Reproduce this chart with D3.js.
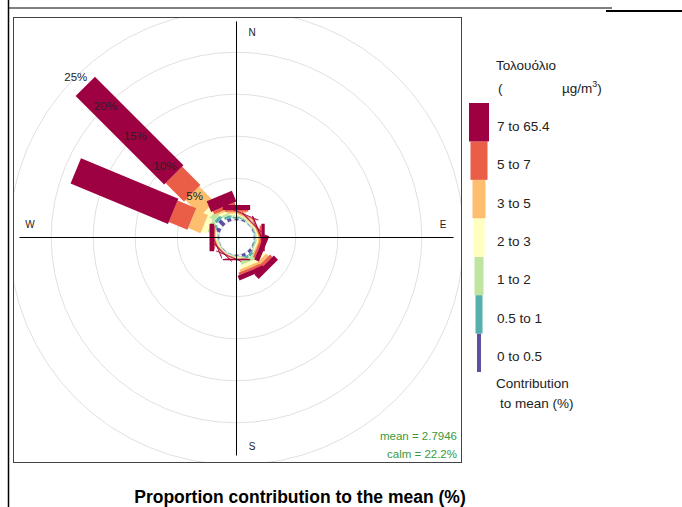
<!DOCTYPE html>
<html>
<head>
<meta charset="utf-8">
<script src="https://cdn.jsdelivr.net/npm/d3@7"></script>
<style>
  body { margin: 0; background: #fff; }
  svg { display: block; font-family: "Liberation Sans", Arial, sans-serif; }
</style>
</head>
<body>
<svg id="chart" width="682" height="507"></svg>
<script>
// wind direction sectors (compass degrees)
const directions = ["N", "NNE", "NE", "ENE", "E", "ESE", "SE", "SSE", "S", "SSW", "SW", "WSW", "W", "WNW", "NW", "NNW"];
const angles = [0, 22.5, 45, 67.5, 90, 112.5, 135, 157.5, 180, 202.5, 225, 247.5, 270, 292.5, 315, 337.5];

// concentration intervals (µg/m3) and their contribution to the mean (%) per sector
const bins = ["0 to 0.5", "0.5 to 1", "1 to 2", "2 to 3", "3 to 5", "5 to 7", "7 to 65.4"];
const binColours = ["#5E4FA2", "#55AFAD", "#BFE5A0", "#FFFFBF", "#FDBF6F", "#EA5D47", "#9E0142"];
const c0to05  = [0.2, 0.15, 0.05, 0.1, 0.1, 0.1, 0.35, 0.35, 0.1, 0.05, 0.05, 0.05, 0.1, 0.55, 0.8, 0.4];
const c05to1  = [0.2, 0.15, 0.05, 0.1, 0.1, 0.1, 0.35, 0.35, 0.05, 0.05, 0.05, 0.05, 0.1, 0.35, 0.4, 0.3];
const c1to2   = [0.2, 0.15, 0.1, 0.1, 0.15, 0.15, 0.6, 0.5, 0.1, 0.05, 0.05, 0.1, 0.1, 0.5, 0.7, 0.3];
const c2to3   = [0.2, 0.1, 0.1, 0.1, 0.15, 0.15, 0.5, 0.4, 0.1, 0.05, 0.05, 0.1, 0.1, 0.7, 0.9, 0.3];
const c3to5   = [0.2, 0.15, 0.1, 0.1, 0.2, 0.15, 0.4, 0.3, 0.1, 0.05, 0.05, 0.1, 0.1, 1.6, 2.6, 0.2];
const c5to7   = [0.2, 0.1, 0.05, 0.1, 0.2, 0.25, 0.4, 0.3, 0.05, 0.05, 0.05, 0.05, 0.1, 2.4, 3.1, 0.4];
const c7to654 = [0.6, 0.1, 0.1, 0.15, 0.4, 0.6, 0.7, 0.6, 0.15, 0.1, 0.1, 0.1, 0.55, 12.55, 14.9, 1.4];
const series = [c0to05, c05to1, c1to2, c2to3, c3to5, c5to7, c7to654];

const gridTicks = [0, 5, 10, 15, 20, 25];
const tickLabels = ["5%", "10%", "15%", "20%", "25%"];
const compass = [["N", 0], ["E", 90], ["S", 180], ["W", 270]];

const svg = d3.select("#chart");

// page frame from the document the figure sits in
svg.append("line").attr("x1", 8.5).attr("x2", 8.5).attr("y1", 0).attr("y2", 507)
  .attr("stroke", "#000").attr("stroke-width", 1.5);
svg.append("line").attr("x1", 8).attr("x2", 612).attr("y1", 8).attr("y2", 8)
  .attr("stroke", "#000").attr("stroke-width", 1);
svg.append("line").attr("x1", 606).attr("x2", 682).attr("y1", 11).attr("y2", 11)
  .attr("stroke", "#000").attr("stroke-width", 2);

// panel
const box = { x: 13.5, y: 17.5, w: 448, h: 445 };
const cx = 236.5, cy = 237.5;

svg.append("clipPath").attr("id", "panel")
  .append("rect").attr("x", box.x).attr("y", box.y).attr("width", box.w).attr("height", box.h);

const g = svg.append("g").attr("clip-path", "url(#panel)");

const r = d3.scaleLinear().domain([0, 25]).range([17.3, 17.3 + 25 * 8.4]);

// grid circles
g.selectAll("circle.grid").data(gridTicks).enter().append("circle")
  .attr("class", "grid")
  .attr("cx", cx).attr("cy", cy).attr("r", d => r(d))
  .attr("fill", "none").attr("stroke", "#e0e0e0").attr("stroke-width", 1);

// stacked contributions
const rows = directions.map((d, i) => {
  const row = { dir: d, angle: angles[i] };
  bins.forEach((b, j) => { row[b] = series[j][i]; });
  return row;
});
const stacked = d3.stack().keys(bins)(rows);

function paddle(angle, r0, r1, w) {
  const t = angle * Math.PI / 180;
  const ux = Math.sin(t), uy = -Math.cos(t);
  const vx = Math.cos(t), vy = Math.sin(t);
  const h = w / 2;
  const pts = [
    [cx + r0 * ux - h * vx, cy + r0 * uy - h * vy],
    [cx + r1 * ux - h * vx, cy + r1 * uy - h * vy],
    [cx + r1 * ux + h * vx, cy + r1 * uy + h * vy],
    [cx + r0 * ux + h * vx, cy + r0 * uy + h * vy]
  ];
  return "M" + pts.map(p => p.join(",")).join("L") + "Z";
}

stacked.forEach((layer, j) => {
  const w = 3.9 * (j + 1);
  g.append("g").selectAll("path").data(layer).enter().append("path")
    .attr("d", d => paddle(d.data.angle, r(d[0]), r(d[1]), w))
    .attr("fill", binColours[j]);
});

// axes
g.append("line").attr("x1", cx).attr("x2", cx).attr("y1", cy - 216).attr("y2", cy + 218)
  .attr("stroke", "#000").attr("stroke-width", 1);
g.append("line").attr("x1", cx - 217).attr("x2", cx + 217).attr("y1", cy).attr("y2", cy)
  .attr("stroke", "#000").attr("stroke-width", 1);

// compass letters
const letterPos = { N: [15.5, -205], E: [206.5, -13], S: [15.5, 209], W: [-206.5, -13] };
g.selectAll("text.compass").data(compass).enter().append("text")
  .attr("class", "compass")
  .attr("x", d => cx + letterPos[d[0]][0])
  .attr("y", d => cy + letterPos[d[0]][1])
  .attr("text-anchor", "middle").attr("dominant-baseline", "central")
  .attr("font-size", 10).attr("fill", "#222")
  .text(d => d[0]);

// percentage labels along NW
g.selectAll("text.pct").data(tickLabels).enter().append("text")
  .attr("class", "pct")
  .attr("x", (d, i) => cx - r(gridTicks[i + 1]) * Math.SQRT1_2)
  .attr("y", (d, i) => cy - r(gridTicks[i + 1]) * Math.SQRT1_2)
  .attr("text-anchor", "middle").attr("dominant-baseline", "central")
  .attr("font-size", 11.5).attr("fill", "#222")
  .text(d => d);

// mean / calm
g.append("text").attr("x", 457).attr("y", 440).attr("text-anchor", "end")
  .attr("font-size", 11.5).attr("fill", "#3a9a3a").text("mean = 2.7946");
g.append("text").attr("x", 457).attr("y", 458).attr("text-anchor", "end")
  .attr("font-size", 11.5).attr("fill", "#3a9a3a").text("calm = 22.2%");

svg.append("rect").attr("x", box.x).attr("y", box.y).attr("width", box.w).attr("height", box.h)
  .attr("fill", "none").attr("stroke", "#444").attr("stroke-width", 1);

// legend
const legendWidths = [4, 7, 9, 11, 13, 17, 20];
const ly = d3.scaleBand().domain(bins.slice().reverse()).range([103, 372]);
const legend = svg.append("g");
legend.selectAll("rect").data(bins).enter().append("rect")
  .attr("x", (d, i) => 479 - legendWidths[i] / 2)
  .attr("y", d => ly(d))
  .attr("width", (d, i) => legendWidths[i])
  .attr("height", ly.bandwidth())
  .attr("fill", (d, i) => binColours[i]);
legend.selectAll("text.lab").data(bins).enter().append("text")
  .attr("class", "lab")
  .attr("x", 497).attr("y", d => ly(d) + ly.bandwidth() / 2 + 4)
  .attr("dominant-baseline", "central").attr("font-size", 13.5).attr("fill", "#222")
  .text(d => d);

legend.append("text").attr("x", 496).attr("y", 70).attr("font-size", 13.5).attr("fill", "#222")
  .text("Τολουόλιο");
legend.append("text").attr("x", 498).attr("y", 93).attr("font-size", 13.5).attr("fill", "#222")
  .text("(");
const unit = legend.append("text").attr("x", 562).attr("y", 93).attr("font-size", 13.5).attr("fill", "#222");
unit.append("tspan").text("µg/m");
unit.append("tspan").attr("dy", -6).attr("font-size", 9).text("3");
unit.append("tspan").attr("dy", 6).text(")");

legend.append("text").attr("x", 496).attr("y", 388).attr("font-size", 13.5).attr("fill", "#222")
  .text("Contribution");
legend.append("text").attr("x", 500).attr("y", 408).attr("font-size", 13.5).attr("fill", "#222")
  .text("to mean (%)");

// title
svg.append("text").attr("x", 300).attr("y", 503).attr("text-anchor", "middle")
  .attr("font-size", 17.5).attr("font-weight", "bold").attr("fill", "#000")
  .text("Proportion contribution to the mean (%)");
</script>
</body>
</html>
